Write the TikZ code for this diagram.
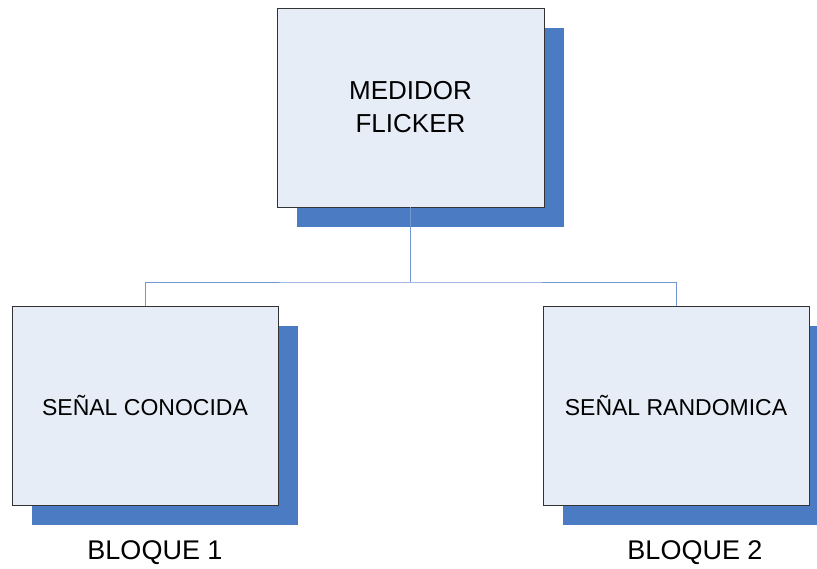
\documentclass[tikz,border=0pt]{standalone}
\usepackage{fontspec}
\setmainfont{Liberation Sans}
\usetikzlibrary{shadows}
\definecolor{boxfill}{HTML}{E7EDF7}
\definecolor{shadowblue}{HTML}{4A7BC3}
\definecolor{linkblue}{HTML}{7196D0}
\tikzset{
  block/.style={draw=black!80, line width=0.9pt, fill=boxfill,
    minimum width=266pt, minimum height=199pt, inner sep=0pt,
    align=center,
    general shadow={fill=shadowblue, shadow xshift=20pt, shadow yshift=-20pt}},
  link/.style={draw=linkblue, line width=0.9pt},
  caption/.style={inner sep=0pt, font=\fontsize{27}{32}\selectfont}
}
\begin{document}
\begin{tikzpicture}[x=1pt,y=-1pt]
  \useasboundingbox (0,0) rectangle (817,569);
  % blocks
  \node[block, minimum width=267pt, font=\fontsize{26}{33}\selectfont] (top) at (410.5,107.5) {MEDIDOR\\FLICKER};
  \node[block, font=\fontsize{23}{28}\selectfont] (left) at (145,405.5) {SEÑAL CONOCIDA};
  \node[block, font=\fontsize{23}{28}\selectfont] (right) at (676,405.5) {SEÑAL RANDOMICA};
  % tree connectors
  \coordinate (bus) at (410.5,282);
  \draw[link] (top.south) -- (bus);
  \draw[link] (left.north) |- (bus) -| (right.north);
  % captions
  \node[caption] (cap1) at (155,553) {BLOQUE 1};
  \node[caption] (cap2) at (695,553) {BLOQUE 2};
\end{tikzpicture}
\end{document}
